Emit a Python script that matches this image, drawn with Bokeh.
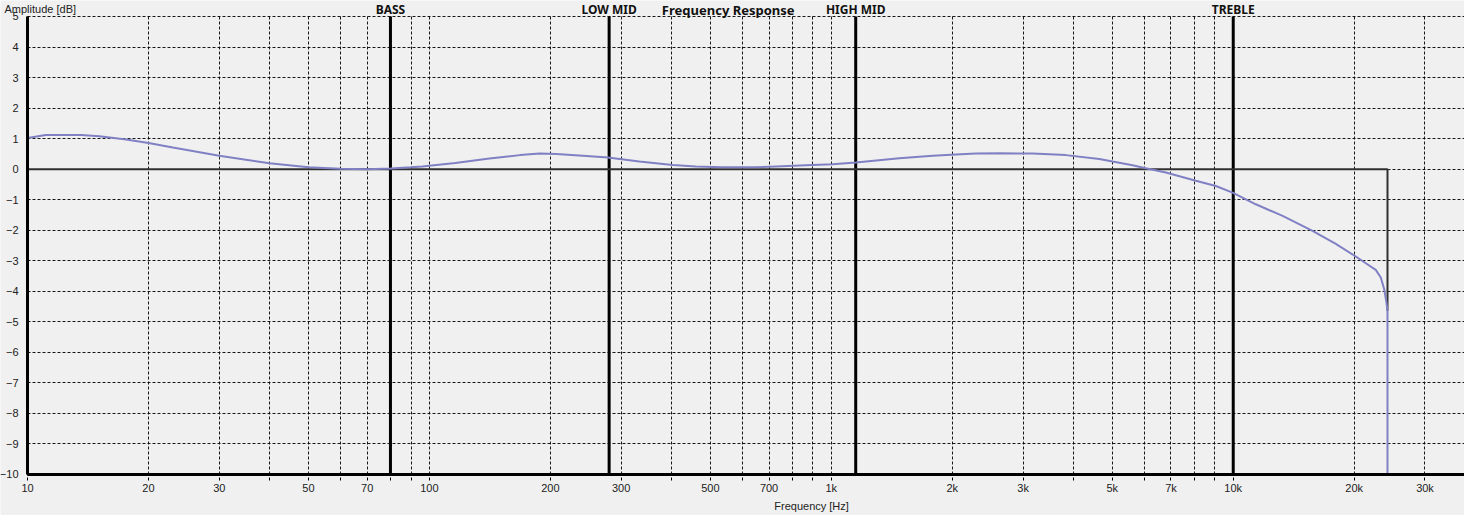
from bokeh.plotting import figure
from bokeh.models import FixedTicker, Range1d, Label, LabelSet, ColumnDataSource
from bokeh.core.properties import value
from bokeh.embed import file_html
from bokeh.resources import INLINE

# --- data ---
freq_hz = [10, 11.1, 13.6, 15.1, 17.6, 20, 23, 30, 40, 50,
           60, 70, 80, 90, 96, 116, 141, 168, 188, 207,
           241, 278, 333, 403, 460, 536, 649, 728, 865, 1007,
           1151, 1476, 1787, 2042, 2290, 2618, 3167, 3833, 4642, 5009,
           5617, 6062, 6797, 8072, 9052, 9961, 11380, 13270, 15750, 18000,
           20180, 21370, 22630, 23290, 23750, 24060, 24200, 24200]
amplitude_db = [1.02, 1.12, 1.12, 1.08, 0.97, 0.86, 0.71, 0.44, 0.19, 0.06,
                0.01, 0.0, 0.02, 0.06, 0.09, 0.20, 0.35, 0.46, 0.51, 0.50,
                0.44, 0.38, 0.25, 0.14, 0.09, 0.06, 0.06, 0.09, 0.13, 0.16,
                0.22, 0.36, 0.44, 0.48, 0.51, 0.52, 0.51, 0.46, 0.33, 0.25,
                0.13, 0.03, -0.11, -0.38, -0.55, -0.77, -1.15, -1.53, -2.02, -2.45,
                -2.86, -3.08, -3.30, -3.55, -3.93, -4.37, -4.64, -10]

ref_freq_hz = [10, 24200, 24200]
ref_amp_db = [0, 0, -4.64]

band_names = ["BASS", "LOW MID", "HIGH MID", "TREBLE"]
band_freq_hz = [80, 280, 1150, 10000]

x_grid_ticks = [10, 20, 30, 40, 50, 60, 70, 80, 90,
                100, 200, 300, 400, 500, 600, 700, 800, 900,
                1000, 2000, 3000, 4000, 5000, 6000, 7000, 8000, 9000,
                10000, 20000, 30000]
x_tick_labels = {10: "10", 20: "20", 30: "30", 50: "50", 70: "70",
                 100: "100", 200: "200", 300: "300", 500: "500", 700: "700",
                 1000: "1k", 2000: "2k", 3000: "3k", 5000: "5k", 7000: "7k",
                 10000: "10k", 20000: "20k", 30000: "30k"}
y_ticks = [-10, -9, -8, -7, -6, -5, -4, -3, -2, -1, 0, 1, 2, 3, 4, 5]

X_MIN, X_MAX = 10, 37620      # plotted frequency span
Y_MIN, Y_MAX = -10, 5         # plotted amplitude span

BG = "#f0f0f0"
FONT = "Liberation Sans"
BOLD_FONT = "Noto Sans"

# the frame covers the whole figure so that titles/labels are not clipped;
# axes sit at fixed locations on the data span
p = figure(width=1464, height=515, x_axis_type="log",
           x_range=Range1d(8.567, X_MAX), y_range=Range1d(-11.343, 5.524),
           output_backend="svg", toolbar_location=None,
           min_border_left=0, min_border_right=0, min_border_top=0, min_border_bottom=0,
           background_fill_color=BG, border_fill_color=BG, outline_line_color=None)

# grid
xg, yg = p.xgrid[0], p.ygrid[0]
xg.ticker = FixedTicker(ticks=x_grid_ticks)
yg.ticker = FixedTicker(ticks=y_ticks)
has_cross = "cross_bounds" in xg.properties()
if has_cross:
    xg.cross_bounds = (Y_MIN, Y_MAX)
    yg.cross_bounds = (X_MIN, X_MAX)
    for g in (xg, yg):
        g.grid_line_color = "black"
        g.grid_line_dash = "3 2"
        g.grid_line_width = 1
        g.grid_line_alpha = 0.9
else:
    xg.grid_line_color = None
    yg.grid_line_color = None
    p.segment(x0=x_grid_ticks, y0=[Y_MIN] * len(x_grid_ticks), x1=x_grid_ticks, y1=[Y_MAX] * len(x_grid_ticks),
              line_color="black", line_dash="3 2", line_width=1, line_alpha=0.9)
    p.segment(x0=[X_MIN] * len(y_ticks), y0=y_ticks, x1=[X_MAX] * len(y_ticks), y1=y_ticks,
              line_color="black", line_dash="3 2", line_width=1, line_alpha=0.9)

# x axis
xa = p.xaxis[0]
xa.fixed_location = Y_MIN
xa.bounds = (X_MIN, X_MAX)
xa.ticker = FixedTicker(ticks=x_grid_ticks, minor_ticks=[])
xa.major_label_overrides = {t: x_tick_labels.get(t, "") for t in x_grid_ticks}
xa.axis_line_width = 3
xa.axis_line_color = "black"
xa.major_tick_out = 6
xa.major_tick_in = 0
xa.major_tick_line_dash = "3 2"
xa.major_tick_line_width = 1
xa.minor_tick_line_color = None
xa.major_label_standoff = 2
xa.major_label_text_font = FONT
xa.major_label_text_font_size = "11px"
xa.major_label_text_color = "#222222"

# y axis
ya = p.yaxis[0]
ya.fixed_location = X_MIN
ya.bounds = (Y_MIN, Y_MAX)
ya.ticker = FixedTicker(ticks=y_ticks, minor_ticks=[])
ya.axis_line_width = 3
ya.axis_line_color = "black"
ya.major_tick_out = 0
ya.major_tick_in = 0
ya.minor_tick_line_color = None
ya.major_label_standoff = 9
ya.major_label_text_font = FONT
ya.major_label_text_font_size = "11px"
ya.major_label_text_color = "#222222"

# band markers
p.segment(x0=band_freq_hz, y0=[Y_MIN] * len(band_freq_hz), x1=band_freq_hz, y1=[Y_MAX] * len(band_freq_hz),
          line_color="black", line_width=3)

# reference (target) line
p.line(ref_freq_hz, ref_amp_db, line_color="#303030", line_width=2)

# measured curve
p.line(freq_hz, amplitude_db, line_color="#8080c4", line_width=2)

band_src = ColumnDataSource(dict(x=band_freq_hz, y=[Y_MAX] * len(band_freq_hz), text=band_names))
p.add_layout(LabelSet(x="x", y="y", text="text", source=band_src, text_align="center",
                      text_baseline="alphabetic", y_offset=2, text_font=value(BOLD_FONT),
                      text_font_style="bold", text_font_size="12px", text_color="#111111"))

p.add_layout(Label(x=554, y=Y_MAX, y_offset=6, text="Frequency Response", text_align="center",
                   text_baseline="alphabetic", text_font=BOLD_FONT, text_font_style="bold",
                   text_font_size="13px", text_color="#111111"))
p.add_layout(Label(x=X_MIN, y=Y_MAX, x_offset=-23, y_offset=7, text="Amplitude [dB]",
                   text_align="left", text_baseline="alphabetic", text_font=FONT,
                   text_font_size="11px", text_color="#222222"))
p.add_layout(Label(x=893, y=Y_MIN, y_offset=-32, text="Frequency [Hz]", text_align="center",
                   text_baseline="middle", text_font=FONT,
                   text_font_size="11px", text_color="#222222"))

open("out.html", "w").write(file_html(p, INLINE))
